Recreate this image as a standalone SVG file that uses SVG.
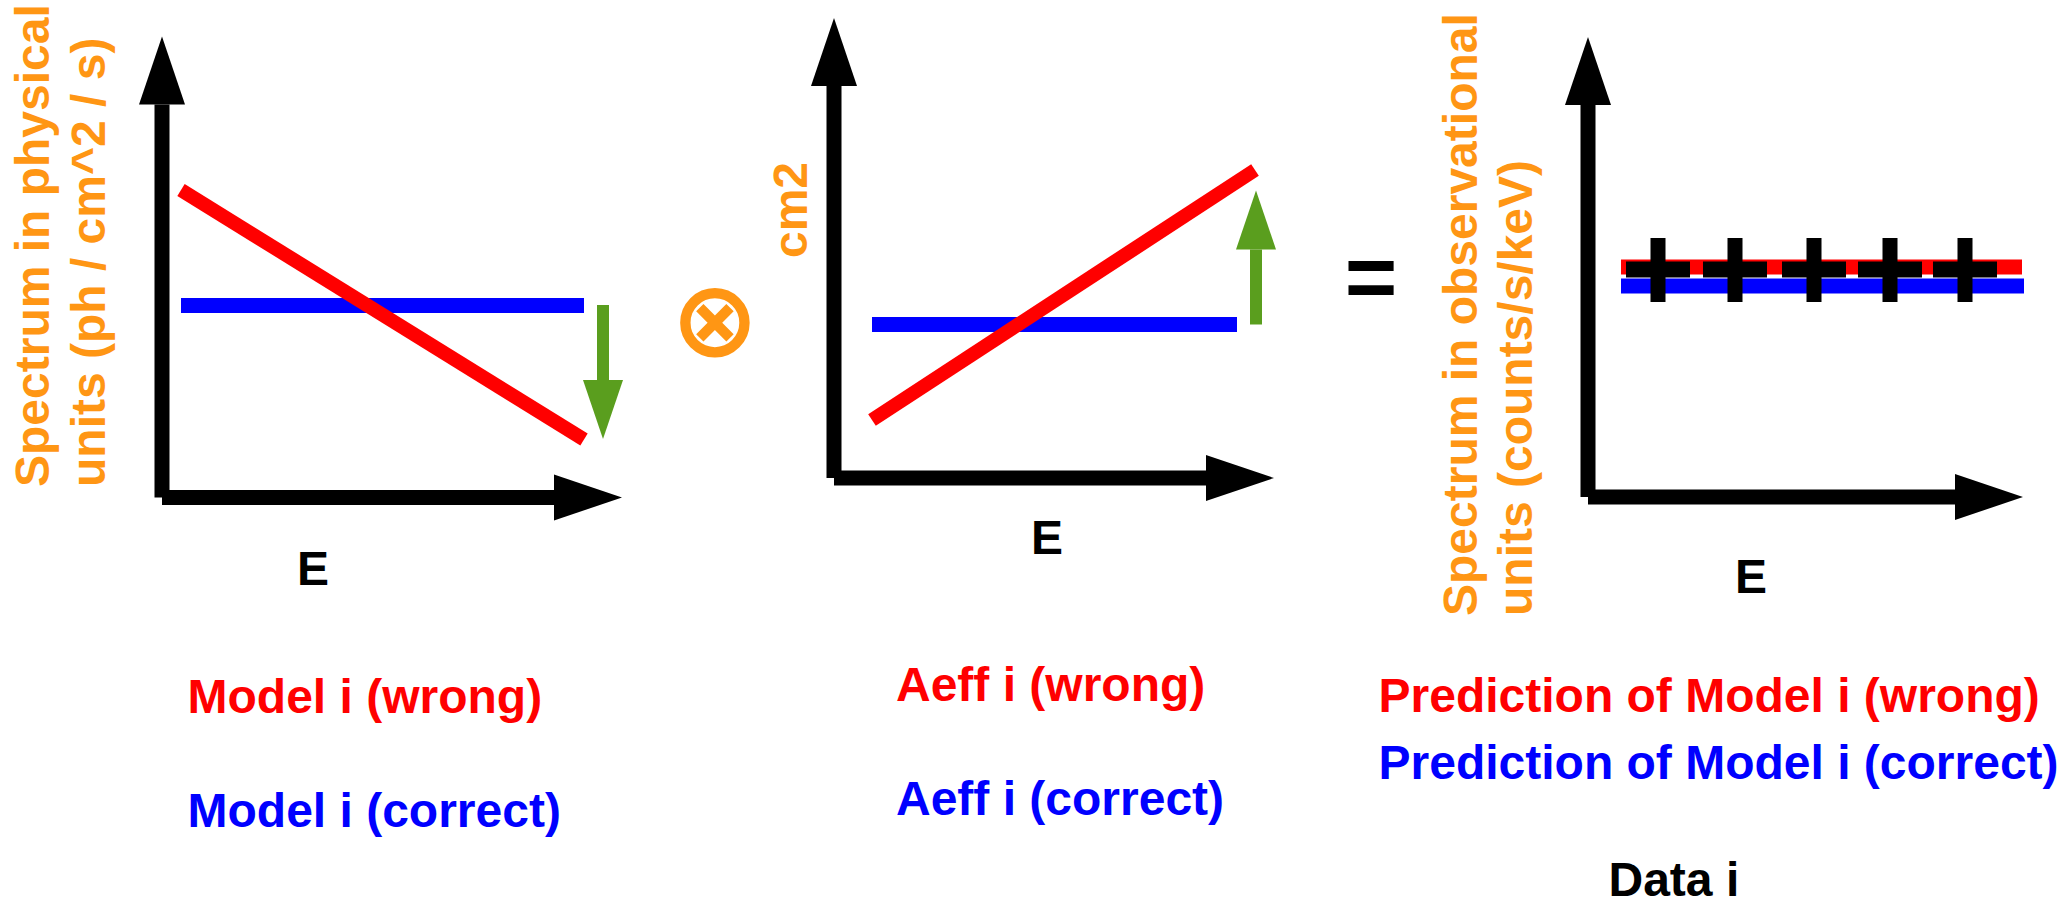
<svg xmlns="http://www.w3.org/2000/svg" width="2064" height="907" viewBox="0 0 2064 907">
<style>
.axis{stroke:#000;stroke-width:15;fill:none;marker-end:url(#ah)}
.red{stroke:#FF0000;stroke-width:14;fill:none}
.redh{stroke:#FF0000;stroke-width:15;fill:none}
.blue{stroke:#0000FF;stroke-width:15;fill:none}
.green{stroke:#5A9E1E;stroke-width:12;fill:none;marker-end:url(#gh)}
.lbl{font-family:"Liberation Sans",Arial,sans-serif;font-weight:bold;font-size:48px}
.org{fill:#FF9614}
.r{fill:#FF0000}
.b{fill:#0000FF}
.k{fill:#000}
.cross{fill:#000}
</style>
<defs>
<marker id="ah" markerUnits="userSpaceOnUse" markerWidth="70" markerHeight="48" refX="0" refY="23" orient="auto" overflow="visible">
<path d="M0,0 L68,23 L0,46 z" fill="#000"/>
</marker>
<marker id="gh" markerUnits="userSpaceOnUse" markerWidth="60" markerHeight="42" refX="0" refY="20" orient="auto" overflow="visible">
<path d="M0,0 L59,20 L0,40 z" fill="#5A9E1E"/>
</marker>
</defs>
<rect width="2064" height="907" fill="#fff"/>

<g id="panel-model">
<g id="model-axes">
<line class="axis" x1="162" y1="497.5" x2="162" y2="104.5"/>
<line class="axis" x1="162" y1="497.5" x2="554" y2="497.5"/>
</g>
<line class="blue" x1="181" y1="305.5" x2="584" y2="305.5"/>
<line class="red" x1="181" y1="190" x2="584" y2="439.5"/>
<line class="green" x1="603" y1="305" x2="603" y2="380"/>
<text class="lbl org" transform="translate(49,487) rotate(-90)">Spectrum in physical</text>
<text class="lbl org" transform="translate(105,487) rotate(-90)">units (ph / cm^2 / s)</text>
<text class="lbl k" x="297" y="585">E</text>
<text class="lbl r" x="187.5" y="713">Model i (wrong)</text>
<text class="lbl b" x="187.5" y="827">Model i (correct)</text>
</g>

<g id="op-times">
<text x="715" y="356" text-anchor="middle" font-family="DejaVu Sans, sans-serif" font-weight="bold" font-size="106" fill="#FF9614">⊗</text>
</g>

<g id="panel-aeff">
<g id="aeff-axes">
<line class="axis" x1="834" y1="478" x2="834" y2="86"/>
<line class="axis" x1="834" y1="478" x2="1206" y2="478"/>
</g>
<line class="blue" x1="872" y1="324.5" x2="1237" y2="324.5"/>
<line class="red" x1="872" y1="420" x2="1255" y2="170"/>
<line class="green" x1="1256" y1="324.5" x2="1256" y2="249.5"/>
<text class="lbl org" transform="translate(807,258) rotate(-90)">cm2</text>
<text class="lbl k" x="1031" y="554">E</text>
<text class="lbl r" x="896" y="701">Aeff i (wrong)</text>
<text class="lbl b" x="896" y="815">Aeff i (correct)</text>
</g>

<g id="op-equals">
<text x="1371" y="308" text-anchor="middle" font-family="Liberation Sans, Arial, sans-serif" font-weight="bold" font-size="90" fill="#000">=</text>
</g>

<g id="panel-prediction">
<g id="pred-axes">
<line class="axis" x1="1588" y1="497" x2="1588" y2="105"/>
<line class="axis" x1="1588" y1="497" x2="1955" y2="497"/>
</g>
<line class="redh" x1="1621" y1="267" x2="2022" y2="267"/>
<line class="blue" x1="1621" y1="286" x2="2024" y2="286"/>
<g id="data-points">
<rect class="cross" x="1626" y="261.5" width="64" height="16"/><rect class="cross" x="1650.5" y="238" width="15" height="64"/>
<rect class="cross" x="1703" y="261.5" width="64" height="16"/><rect class="cross" x="1727.5" y="238" width="15" height="64"/>
<rect class="cross" x="1782" y="261.5" width="64" height="16"/><rect class="cross" x="1806.5" y="238" width="15" height="64"/>
<rect class="cross" x="1858" y="261.5" width="64" height="16"/><rect class="cross" x="1882.5" y="238" width="15" height="64"/>
<rect class="cross" x="1933" y="261.5" width="64" height="16"/><rect class="cross" x="1957.5" y="238" width="15" height="64"/>
</g>
<text class="lbl org" transform="translate(1477,616) rotate(-90)">Spectrum in observational</text>
<text class="lbl org" transform="translate(1532,616) rotate(-90)">units (counts/s/keV)</text>
<text class="lbl k" x="1735" y="593">E</text>
<text class="lbl r" x="1378.5" y="712">Prediction of Model i (wrong)</text>
<text class="lbl b" x="1378.5" y="779">Prediction of Model i (correct)</text>
<text class="lbl k" x="1608.5" y="896">Data i</text>
</g>
</svg>
